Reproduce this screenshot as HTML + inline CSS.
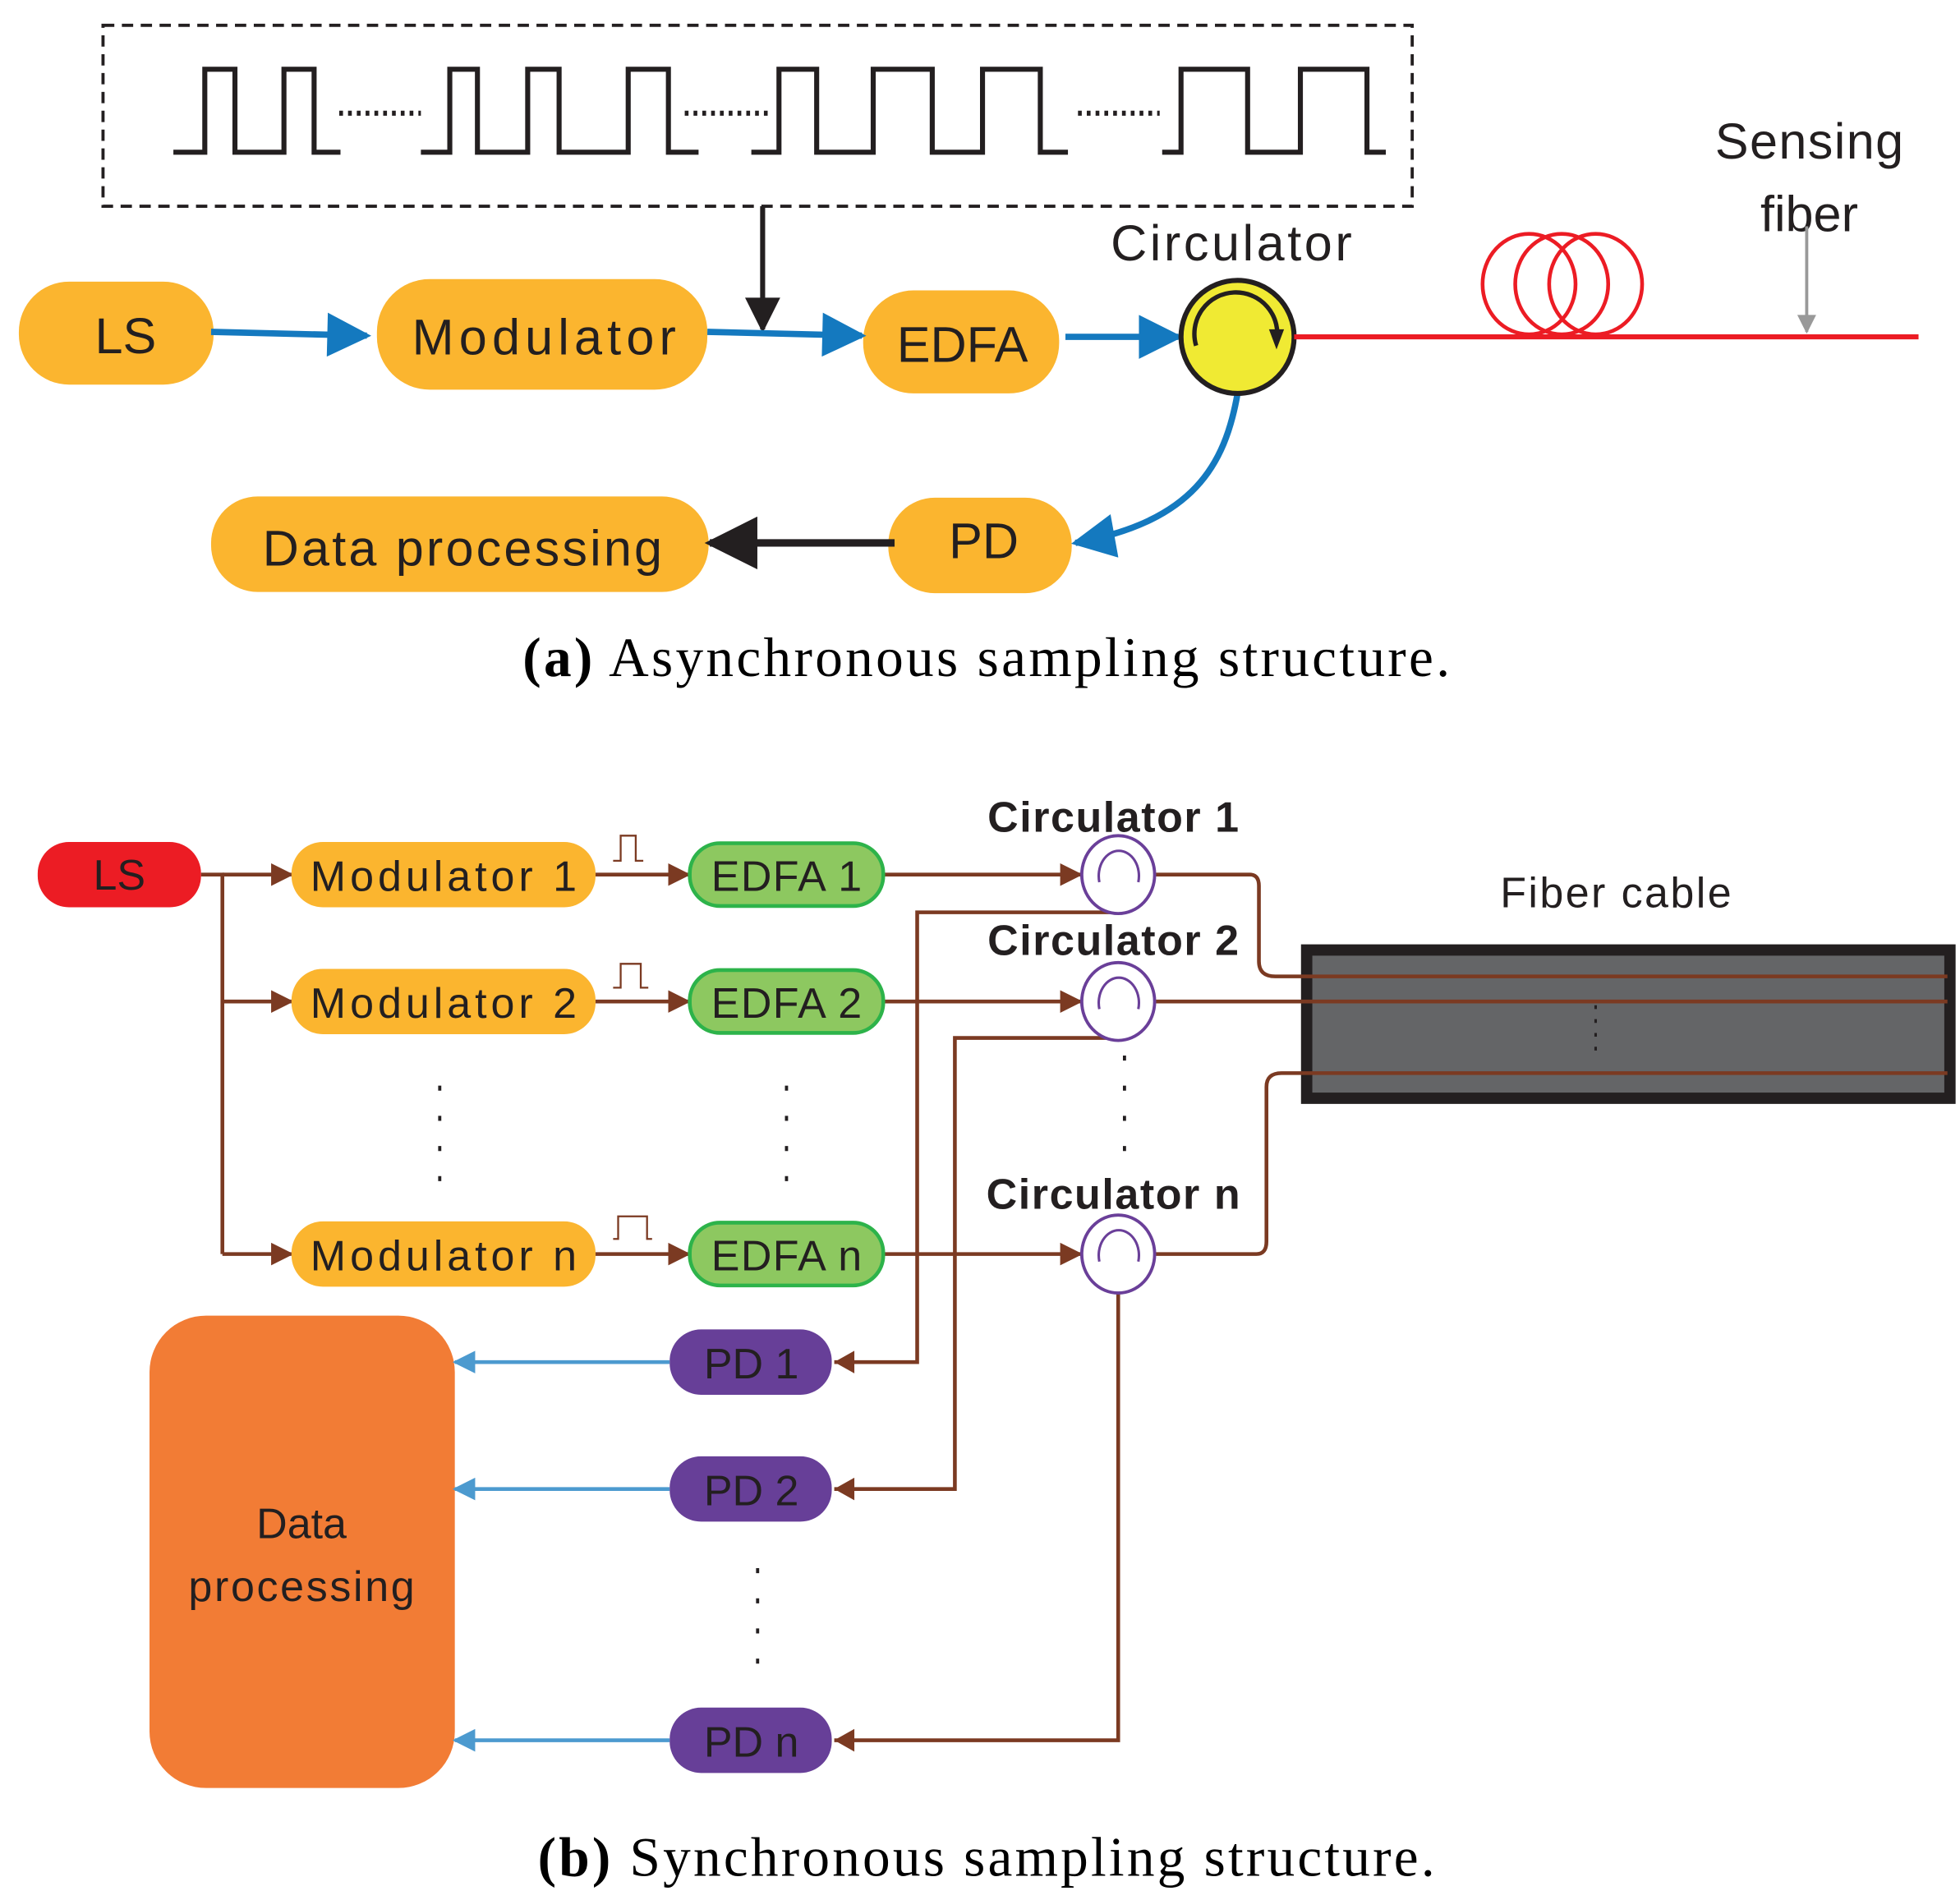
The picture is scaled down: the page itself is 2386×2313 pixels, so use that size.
<!DOCTYPE html>
<html><head><meta charset="utf-8"><style>html,body{margin:0;padding:0;background:#fff}svg{display:block}</style></head>
<body>
<svg width="2386" height="2313" viewBox="0 0 1560 1512" xmlns="http://www.w3.org/2000/svg" font-family="'Liberation Sans', sans-serif">
<defs>
<marker id="ab" viewBox="0 0 10 10" refX="9" refY="5" markerWidth="8" markerHeight="7" orient="auto" markerUnits="strokeWidth"><path d="M0,0L10,5L0,10z" fill="#1479BF"/></marker>
<marker id="ak" viewBox="0 0 10 10" refX="9" refY="5" markerWidth="8" markerHeight="7" orient="auto" markerUnits="strokeWidth"><path d="M0,0L10,5L0,10z" fill="#231F20"/></marker>
<marker id="ag" viewBox="0 0 10 10" refX="9" refY="5" markerWidth="9" markerHeight="6" orient="auto" markerUnits="strokeWidth"><path d="M0,0L10,5L0,10z" fill="#999"/></marker>
<marker id="ar" viewBox="0 0 10 10" refX="9" refY="5" markerWidth="6" markerHeight="6" orient="auto" markerUnits="strokeWidth"><path d="M0,0L10,5L0,10z" fill="#7B3A22"/></marker>
<marker id="al" viewBox="0 0 10 10" refX="9" refY="5" markerWidth="6" markerHeight="6" orient="auto" markerUnits="strokeWidth"><path d="M0,0L10,5L0,10z" fill="#4C9ACF"/></marker>
</defs>
<!-- (a) -->
<rect x="82" y="20" width="1042" height="144" fill="none" stroke="#231F20" stroke-width="2.5" stroke-dasharray="9,6"/>
<g fill="none" stroke="#231F20" stroke-width="4">
<path d="M138,121H163V55H187V121H226V55H250V121H271"/>
<path d="M335,121H358V55H380V121H420V55H445V121H500V55H532V121H556"/>
<path d="M598,121H620V55H650V121H695V55H742V121H782V55H828V121H850"/>
<path d="M925,121H940V55H993V121H1035V55H1088V121H1103"/>
</g>
<g fill="none" stroke="#231F20" stroke-width="4" stroke-dasharray="3,4">
<path d="M270,90H335M545,90H612M858,90H923"/>
</g>
<line x1="607" y1="164" x2="607" y2="262" stroke="#231F20" stroke-width="4" marker-end="url(#ak)"/>
<g fill="#FBB52F">
<rect x="15" y="224" width="155" height="82" rx="40"/>
<rect x="300" y="222" width="263" height="88" rx="42"/>
<rect x="687" y="231" width="156" height="82" rx="40"/>
<rect x="707" y="396" width="146" height="76" rx="37"/>
<rect x="168" y="395" width="396" height="76" rx="37"/>
</g>
<g fill="#231F20" font-size="40" text-anchor="middle">
<text x="100" y="281">LS</text>
<text x="433" y="282" textLength="210">Modulator</text>
<text x="766" y="288">EDFA</text>
<text x="783" y="444">PD</text>
<text x="368" y="450" textLength="318">Data processing</text>
<text x="980" y="207" textLength="192">Circulator</text>
<text x="1440" y="126" textLength="150">Sensing</text>
<text x="1440" y="184">fiber</text>
</g>
<g stroke="#1479BF" stroke-width="5" fill="none">
<line x1="168" y1="264" x2="292" y2="267" marker-end="url(#ab)"/>
<line x1="563" y1="264" x2="686" y2="267" marker-end="url(#ab)"/>
<line x1="848" y1="268" x2="938" y2="268" marker-end="url(#ab)"/>
<path d="M985,313C975,370 950,415 856,432" marker-end="url(#ab)"/>
</g>
<line x1="712" y1="432" x2="565" y2="432" stroke="#231F20" stroke-width="6" marker-end="url(#ak)"/>
<circle cx="985" cy="268" r="45" fill="#F0EA33" stroke="#231F20" stroke-width="4"/>
<path d="M952,275A33,33 0 1 1 1016,272" fill="none" stroke="#231F20" stroke-width="3.5"/>
<path d="M1010,262L1016,278L1022,262z" fill="#231F20"/>
<line x1="1030" y1="268" x2="1527" y2="268" stroke="#EC1C24" stroke-width="4"/>
<g fill="none" stroke="#EC1C24" stroke-width="3">
<ellipse cx="1217" cy="226" rx="37" ry="40"/><ellipse cx="1243" cy="226" rx="37" ry="40"/><ellipse cx="1270" cy="226" rx="37" ry="40"/>
</g>
<line x1="1438" y1="180" x2="1438" y2="264" stroke="#999" stroke-width="2.5" marker-end="url(#ag)"/>
<text x="785" y="538" text-anchor="middle" font-family="'Liberation Serif', serif" font-size="44" textLength="738"><tspan font-weight="bold">(a)</tspan> Asynchronous sampling structure.</text>
<!-- (b) -->
<rect x="1040" y="756" width="512" height="118" fill="#646567" stroke="#231F20" stroke-width="9"/>
<line x1="1270" y1="800" x2="1270" y2="842" stroke="#231F20" stroke-width="2" stroke-dasharray="3,8"/>
<g stroke="#7B3A22" stroke-width="3" fill="none">
<path d="M160,696H177V998"/>
<line x1="177" y1="696" x2="232" y2="696" marker-end="url(#ar)"/>
<line x1="177" y1="797" x2="232" y2="797" marker-end="url(#ar)"/>
<line x1="177" y1="998" x2="232" y2="998" marker-end="url(#ar)"/>
<line x1="474" y1="696" x2="548" y2="696" marker-end="url(#ar)"/>
<line x1="474" y1="797" x2="548" y2="797" marker-end="url(#ar)"/>
<line x1="474" y1="998" x2="548" y2="998" marker-end="url(#ar)"/>
<line x1="703" y1="696" x2="860" y2="696" marker-end="url(#ar)"/>
<line x1="703" y1="797" x2="860" y2="797" marker-end="url(#ar)"/>
<line x1="703" y1="998" x2="860" y2="998" marker-end="url(#ar)"/>
<path d="M920,696H995Q1002,696 1002,705V765Q1002,777 1015,777H1550"/>
<path d="M920,797H1550"/>
<path d="M920,998H1000Q1008,998 1008,988V865Q1008,854 1020,854H1550"/>
<path d="M890,726H730V1084H664" />
<path d="M890,826H760V1185H664"/>
<path d="M890,1028V1385H664"/>
</g>
<g stroke="#7B3A22" stroke-width="1.5" fill="none">
<path d="M488,685H494V665H506V685H512M488,786H494V767H510V786H516M488,986H492V968H515V986H519"/>
</g>
<g fill="#7B3A22"><path d="M680,1075L664,1084L680,1093zM680,1176L664,1185L680,1194zM680,1376L664,1385L680,1394z"/></g>
<rect x="30" y="670" width="130" height="52" rx="25" fill="#EC1C24"/>
<g fill="#FBB52F"><rect x="232" y="670" width="242" height="52" rx="25"/><rect x="232" y="771" width="242" height="52" rx="25"/><rect x="232" y="972" width="242" height="52" rx="25"/></g>
<g fill="#8DC860" stroke="#2DB34A" stroke-width="3"><rect x="549" y="671" width="154" height="50" rx="24"/><rect x="549" y="772" width="154" height="50" rx="24"/><rect x="549" y="973" width="154" height="50" rx="24"/></g>
<g fill="#673F98"><rect x="533" y="1058" width="129" height="52" rx="25"/><rect x="533" y="1159" width="129" height="52" rx="25"/><rect x="533" y="1359" width="129" height="52" rx="25"/></g>
<rect x="119" y="1047" width="243" height="376" rx="45" fill="#F27C35"/>
<g fill="#fff" stroke="#6A3F99" stroke-width="2.5">
<ellipse cx="890" cy="696" rx="29" ry="31"/><ellipse cx="890" cy="797" rx="29" ry="31"/><ellipse cx="890" cy="998" rx="29" ry="31"/>
</g>
<g fill="none" stroke="#6A3F99" stroke-width="2">
<path d="M875,702A16,20 0 1 1 906,702M875,803A16,20 0 1 1 906,803M875,1004A16,20 0 1 1 906,1004"/>
</g>
<g stroke="#4C9ACF" stroke-width="3">
<line x1="533" y1="1084" x2="362" y2="1084" marker-end="url(#al)"/>
<line x1="533" y1="1185" x2="362" y2="1185" marker-end="url(#al)"/>
<line x1="533" y1="1385" x2="362" y2="1385" marker-end="url(#al)"/>
</g>
<g stroke="#231F20" stroke-width="2.5" stroke-dasharray="4,20">
<line x1="350" y1="864" x2="350" y2="945"/><line x1="626" y1="864" x2="626" y2="945"/>
<line x1="895" y1="840" x2="895" y2="920"/><line x1="603" y1="1248" x2="603" y2="1330"/>
</g>
<g fill="#231F20" font-size="34" text-anchor="middle">
<text x="95" y="708">LS</text>
<text x="353" y="709" textLength="212">Modulator 1</text>
<text x="353" y="810" textLength="212">Modulator 2</text>
<text x="353" y="1011" textLength="212">Modulator n</text>
<text x="626" y="709" textLength="120">EDFA 1</text>
<text x="626" y="810" textLength="120">EDFA 2</text>
<text x="626" y="1011" textLength="120">EDFA n</text>
<text x="598" y="1097">PD 1</text>
<text x="598" y="1198">PD 2</text>
<text x="598" y="1398">PD n</text>
<text x="240" y="1224">Data</text>
<text x="240" y="1274" textLength="180">processing</text>
<text x="1286" y="722" textLength="184">Fiber cable</text>
<g font-weight="bold"><text x="886" y="662" textLength="200">Circulator 1</text><text x="886" y="760" textLength="200">Circulator 2</text><text x="886" y="962" textLength="202">Circulator n</text></g>
</g>
<text x="785" y="1493" text-anchor="middle" font-family="'Liberation Serif', serif" font-size="44" textLength="714"><tspan font-weight="bold">(b)</tspan> Synchronous sampling structure.</text>
</svg>
</body></html>
